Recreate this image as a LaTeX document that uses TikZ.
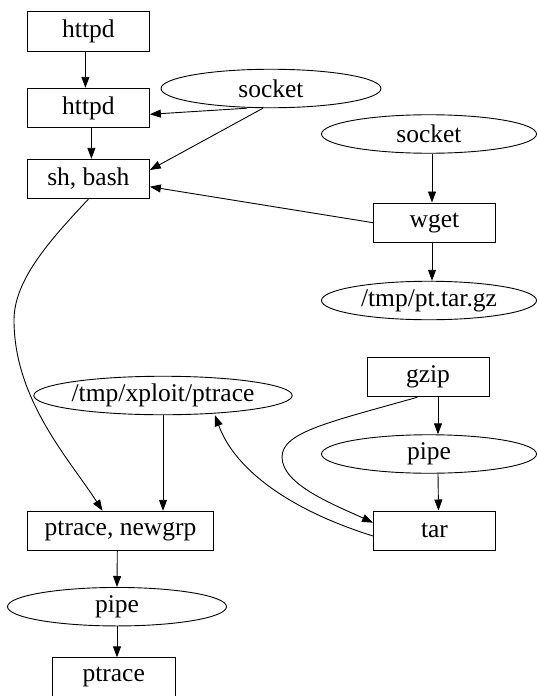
\documentclass[tikz,border=0pt]{standalone}
\usepackage{fontspec}
\setmainfont{LiberationSerif}[Extension=.ttf, UprightFont=*-Regular]
\usetikzlibrary{arrows.meta,shapes.geometric}

\begin{document}
\begin{tikzpicture}[x=1pt, y=-1pt,
    every node/.style={font=\rmfamily\fontsize{25.5}{30}\selectfont},
    proc/.style={draw, line width=0.9pt, inner sep=0pt,
      minimum width=122pt, minimum height=39.5pt},
    res/.style={draw, ellipse, line width=0.9pt, inner sep=0pt,
      minimum width=220pt, minimum height=38.5pt},
    flow/.style={line width=0.9pt, -{Triangle[length=11pt, width=8pt]}}]
    \useasboundingbox (0, 0) rectangle (536, 696);
    \node [proc] (httpdA) at (88.4,  31.3) {httpd};
    \node [proc] (httpdB) at (88.4, 108) {httpd};
    \node [proc] (sh) at (88.4, 179) {sh, bash};
    \node [res] (sockA) at (271, 88.5) {socket};
    \node [res, minimum width=215pt] (sockB) at (429, 134) {socket};
    \node [proc] (wget) at (434.5, 222.7) {wget};
    \node [res, minimum width=215pt] (tgz) at (429, 300.5) {/tmp/pt.tar.gz};
    \node [proc] (gzip) at (428, 377) {gzip};
    \node [res] (xploit) at (163, 395.5) {/tmp/xploit/ptrace};
    \node [res, minimum width=215pt] (pipeB) at (429, 454) {pipe};
    \node [proc] (tar) at (434.5, 530.7) {tar};
    \node [proc, minimum width=186pt] (newgrp) at (120.5, 531) {ptrace, newgrp};
    \node [res, minimum width=219pt] (pipeA) at (117, 606.7) {pipe};
    \node [proc, minimum width=123pt] (ptrace) at (113.7, 677.5) {ptrace};
    \draw [flow] ([xshift=-3pt]httpdA.south) -- ([xshift=-3pt]httpdB.north);
    \draw [flow] ([xshift=3pt]httpdB.south) -- ([xshift=3pt]sh.north);
    \draw [flow] ([xshift=-24pt]sockA.south) -- ([yshift=-6.3pt]httpdB.east);
    \draw [flow] ([xshift=-8pt]sockA.south) -- ([yshift=9pt]sh.east);
    \draw [flow] ([xshift=3pt]sockB.south) -- ([xshift=-2.5pt]wget.north);
    \draw [flow] (wget.west) -- ([yshift=-7.7pt]sh.east);
    \draw [flow] ([xshift=-2.5pt]wget.south) -- ([xshift=3pt]tgz.north);
    \draw [flow] (sh.south) .. controls (50, 240) and (14, 280) .. (14, 320)
        .. controls (14, 400) and (70, 460) .. ([xshift=-18pt]newgrp.north);
    \draw [flow] (xploit.south) -- (xploit.south |- newgrp.north);
    \draw [flow] ([xshift=10pt]gzip.south) -- ([xshift=9pt]pipeB.north);
    \draw [flow] ([xshift=9pt]pipeB.south) -- ([xshift=4pt]tar.north);
    \draw [flow] ([xshift=-10.6pt]gzip.south) .. controls (330, 422) and (282, 432) .. (282, 457)
        .. controls (282, 485) and (335, 505) .. ([yshift=8pt]tar.west);
    \draw [flow] ([yshift=-5.3pt]tar.west) .. controls (290, 510) and (235, 470) ..
        ([xshift=52pt]xploit.south);
    \draw [flow] ([xshift=-3.2pt]newgrp.south) -- (pipeA.north);
    \draw [flow] (pipeA.south) -- ([xshift=3.3pt]ptrace.north);
  \end{tikzpicture}
\end{document}
